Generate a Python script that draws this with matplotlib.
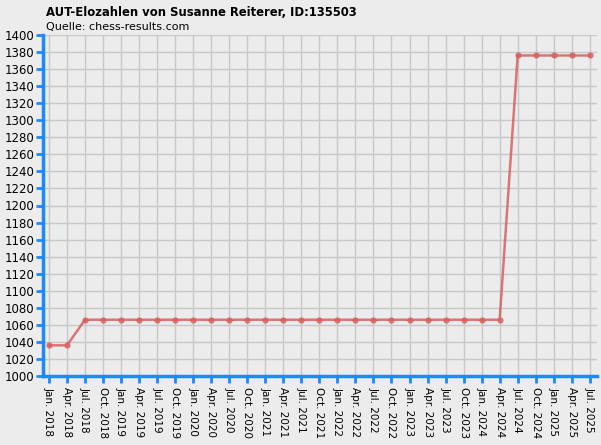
import matplotlib
matplotlib.use('Agg')
import matplotlib.pyplot as plt

# quarterly rating list dates and ratings
dates = []
for year in range(2018, 2026):
    for month in ['Jan.', 'Apr.', 'Jul.', 'Oct.']:
        if year == 2025 and month == 'Oct.':
            break
        dates.append(f'{month} {year}')

ratings = [1036, 1036] + [1066] * 24 + [1376] * 5

bg = '#ececec'
blue = '#1e88ff'

fig = plt.figure(figsize=(6.01, 4.45), dpi=100, facecolor=bg)
ax = fig.add_axes([43 / 601, 69 / 445, 554 / 601, 341 / 445], facecolor=bg)

x = list(range(len(dates)))
ax.plot(x, ratings, color='#d95f5f', lw=1.8, alpha=0.85, marker='o', ms=4.5,
        markeredgewidth=0, zorder=3)

ax.set_xlim(-0.33, len(dates) - 1 + 0.4)
ax.set_ylim(1000, 1400)
ax.set_yticks(range(1000, 1401, 20))
ax.set_xticks(x)
ax.set_xticklabels(dates, rotation=-90, fontsize=7.5)
ax.tick_params(axis='y', labelsize=8.5, colors=blue, labelcolor='black',
               length=5, width=2, pad=1)
ax.tick_params(axis='x', colors=blue, labelcolor='black', length=5, width=2, pad=3)

ax.grid(True, color='#c8c8c8', lw=1)
ax.set_axisbelow(True)
for side in ['top', 'right']:
    ax.spines[side].set_visible(False)
for side in ['left', 'bottom']:
    ax.spines[side].set_color(blue)
    ax.spines[side].set_linewidth(2.5)

fig.text(46 / 601, 1 - 12 / 445, 'AUT-Elozahlen von Susanne Reiterer, ID:135503',
         fontsize=8.4, fontweight='bold', va='center', ha='left')
fig.text(46 / 601, 1 - 27 / 445, 'Quelle: chess-results.com',
         fontsize=8.0, va='center', ha='left')

plt.savefig('out.png', dpi=100, facecolor=bg)
plt.close()
